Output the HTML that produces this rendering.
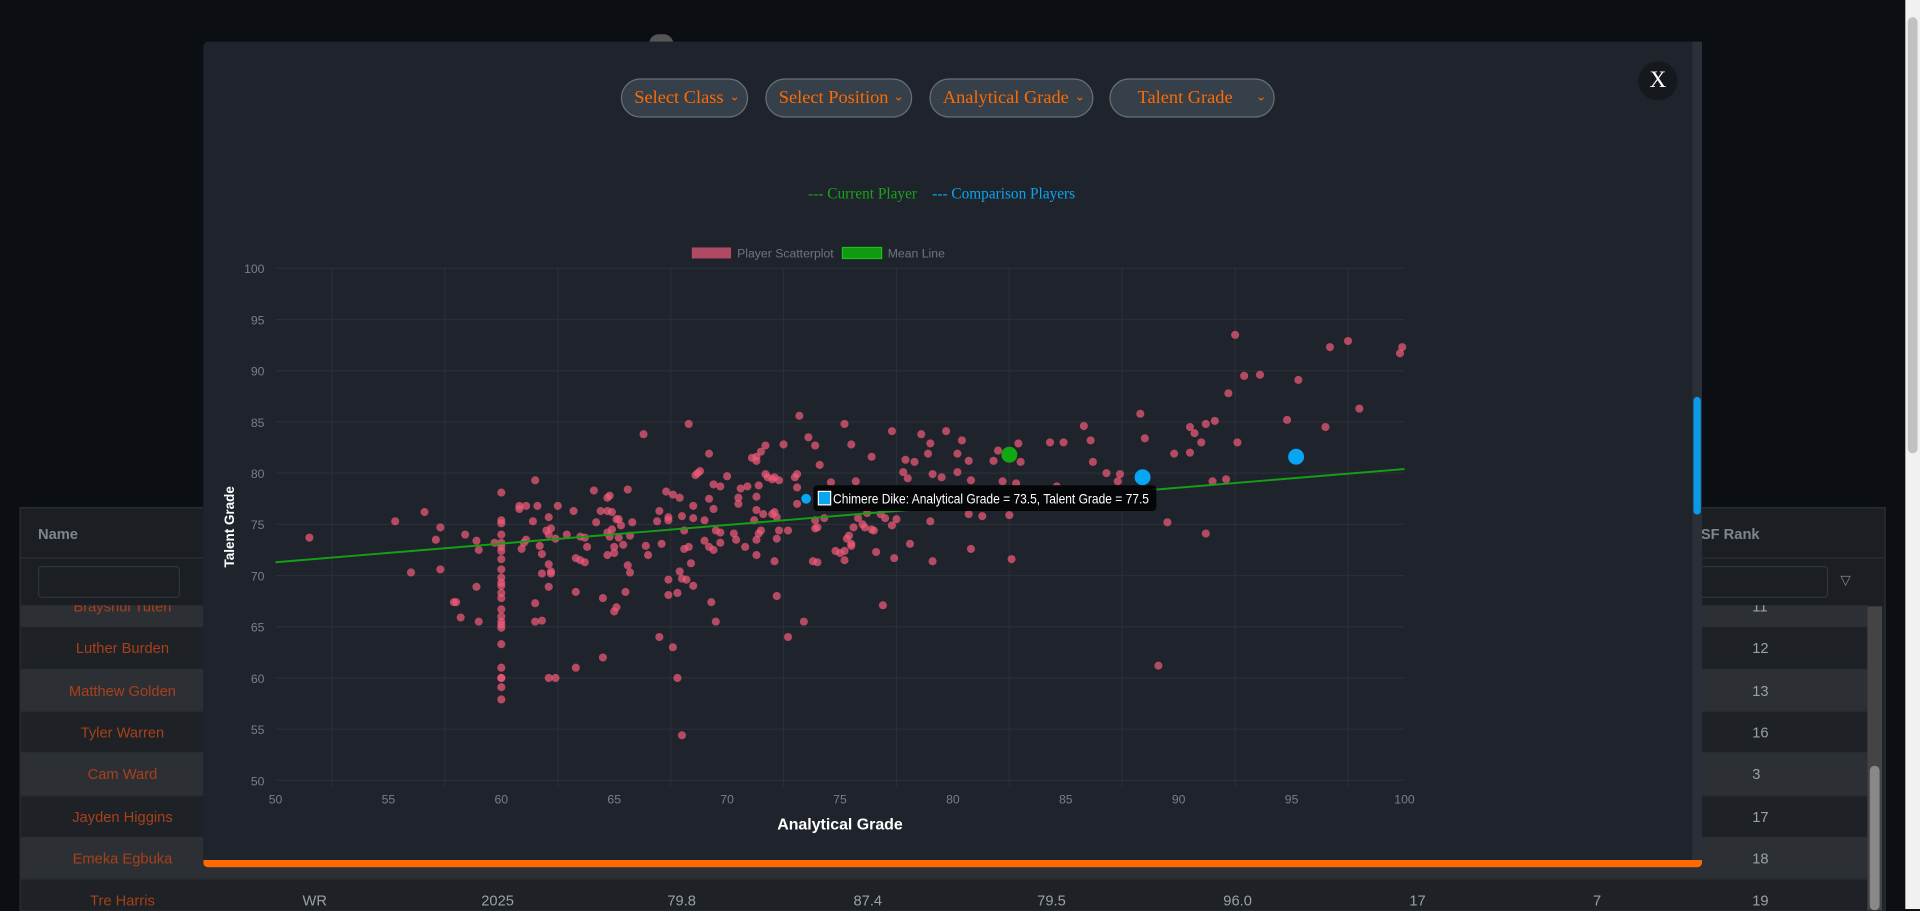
<!DOCTYPE html>
<html><head><meta charset="utf-8">
<style>
html,body{margin:0;padding:0;width:1920px;height:909px;overflow:hidden;background:#0b0f13;}
#wrap{position:absolute;left:0;top:0;width:1568px;height:742px;transform:scale(1.22449,1.2251);transform-origin:0 0;font-family:"Liberation Sans",sans-serif;}
.tbl{position:absolute;left:16px;top:414px;width:1522px;height:328px;background:#1e2226;border:1px solid #2c3036;overflow:hidden;}
.row{position:absolute;left:0;width:1508px;height:34px;border-top:1px solid #2a2e33;font-size:12px;color:#a8401a;}
.row span{position:absolute;top:10px;}
.modal{position:absolute;left:166px;top:34px;width:1224px;height:674px;background:#1f242c;border-radius:4px;border-bottom:6px solid #ff6a00;box-sizing:border-box;}
.sel{position:absolute;top:30px;height:32px;border-radius:16px;background:#36404a;border:1px solid #6a6f75;box-sizing:border-box;color:#ff6a00;font-family:"Liberation Serif",serif;font-size:15px;line-height:30px;padding-left:10px;}
.sel i{position:absolute;right:6px;top:0;font-style:normal;font-size:10px;}
</style></head><body>
<div id="wrap">
<div style="position:absolute;left:530px;top:28px;width:20px;height:8px;border-radius:10px 10px 0 0;background:#555"></div>
<div class="tbl">
 <div id="rows"></div>
 <div style="position:absolute;left:0;top:0;width:1522px;height:40px;background:#1b1f23;border-bottom:1px solid #2c3036"></div>
 <div style="position:absolute;left:0;top:41px;width:1522px;height:38px;background:#1b1f23"></div>
 <div style="position:absolute;left:14px;top:14px;font-size:12px;font-weight:bold;color:#7d8590">Name</div>
 <div style="position:absolute;left:1372px;top:14px;font-size:12px;font-weight:bold;color:#7d8590">SF Rank</div>
 <div style="position:absolute;left:14px;top:47px;width:114px;height:24px;border:1px solid #30353b;border-radius:3px;background:#1b1f23"></div>
 <div style="position:absolute;left:1360px;top:47px;width:114px;height:24px;border:1px solid #30353b;border-radius:3px;background:#1b1f23"></div>
 <div style="position:absolute;left:1486px;top:52px;font-size:11px;color:#888">▽</div>
 <div style="position:absolute;left:1508px;top:80px;width:12px;height:248px;background:#444"><div style="position:absolute;left:2px;top:130px;width:8px;height:118px;background:#888;border-radius:4px"></div></div>
</div>
<div style="position:absolute;left:1556px;top:0;width:12px;height:742px;background:#f1f1f1"><div style="position:absolute;left:2px;top:14px;width:8px;height:356px;background:#c1c1c1;border-radius:4px"></div></div>

<div class="modal">
 <div style="position:absolute;right:0;top:0;width:8px;height:668px;background:#2b3038"><div style="position:absolute;left:1px;top:290px;width:6px;height:96px;background:#0a9be8;border-radius:3px"></div></div>
 <div class="sel" style="left:341px;width:104px">Select Class<i>⌄</i></div>
 <div class="sel" style="left:459px;width:120px">Select Position<i>⌄</i></div>
 <div class="sel" style="left:593px;width:134px">Analytical Grade<i>⌄</i></div>
 <div class="sel" style="left:740px;width:135px;padding-left:22px">Talent Grade<i>⌄</i></div>
 <div style="position:absolute;left:1172px;top:16px;width:32px;height:32px;border-radius:16px;background:#15181c;color:#fff;font-family:'Liberation Serif',serif;font-size:19px;text-align:center;line-height:32px">X</div>
 <div style="position:absolute;left:494px;top:117px;font-family:'Liberation Serif',serif;font-size:12.5px;white-space:nowrap"><span style="color:#1aa31a">--- Current Player</span>&nbsp;&nbsp;&nbsp;&nbsp;<span style="color:#0aa5f0">--- Comparison Players</span></div>
</div>

<svg id="chart" width="1568" height="742" style="position:absolute;left:0;top:0"></svg>
</div>
<script>
const xVals=[51.5,55.3,56.0,56.6,57.1,57.3,57.3,57.9,58.0,58.2,58.4,58.9,59.0,58.9,59.0,59.7,
60,60,60,60,60,60,60,60,60,60,60,60,60,60,60,60,60,60,60,60,60,60,60,60,60,
60.8,60.8,61.1,60.9,61.0,61.1,61.4,61.5,61.6,61.5,61.5,61.8,61.7,61.8,61.8,62.0,62.1,62.1,62.2,62.1,62.2,62.2,62.1,62.1,62.4,62.5,62.4,62.9,63.2,63.3,63.3,63.3,63.5,63.7,63.5,63.7,63.8,64.1,64.2,64.4,64.5,64.5,64.7,64.8,64.7,64.9,64.7,64.9,64.8,64.7,65.0,65.0,65.0,65.1,65.1,65.2,65.3,65.2,65.4,65.6,65.6,65.7,65.5,65.7,65.8,66.3,66.4,66.5,66.9,67.0,67.1,67.0,67.3,67.4,67.4,67.4,67.4,67.6,67.6,67.8,67.8,67.9,67.9,68.0,68.2,68.0,68.0,68.1,68.1,68.3,68.3,68.4,68.5,68.5,68.5,68.6,68.7,68.8,69.0,69.0,69.2,69.2,69.2,69.3,69.4,69.4,69.4,69.5,69.5,69.7,69.7,69.7,70.0,70.3,70.4,70.5,70.5,70.6,70.9,70.8,71.1,71.3,71.3,71.5,71.7,71.3,71.4,71.3,71.2,71.3,71.5,71.4,71.3,71.6,71.7,71.8,72.0,72.1,72.3,72.1,72.0,72.2,72.2,72.1,72.2,72.3,72.5,72.7,72.7,73.0,73.1,73.1,73.1,73.2,73.4,73.6,73.9,74.1,73.8,74.0,73.9,73.9,74.0,74.3,74.6,74.8,75.0,75.2,75.2,75.2,75.5,75.7,75.5,75.5,75.4,75.3,75.6,75.8,76.0,76.2,76.1,76.4,76.5,76.4,76.6,76.8,76.9,77.0,77.3,77.3,77.4,77.5,77.8,77.9,78.0,78.1,78.3,78.6,78.9,79.0,79.1,79.0,79.1,79.5,79.7,80.2,80.2,80.4,80.7,80.7,80.8,80.8,81.3,81.8,82.0,
82.9,83.0,82.2,82.8,82.5,82.5,82.6,84.3,84.9,84.6,85.8,86.1,86.2,86.8,87.4,87.3,88.3,88.5,89.5,89.1,89.8,90.5,90.7,90.5,91.0,91.2,91.6,91.2,91.5,92.1,92.2,92.6,92.5,92.9,93.6,94.8,95.3,96.5,96.7,97.5,98.0,99.8,99.9];
const yVals=[73.7,75.3,70.3,76.2,73.5,74.7,70.6,67.4,67.4,65.9,74.0,73.4,72.5,68.9,65.5,73.2,
78.1,75.4,75.1,74.0,73.2,72.8,72.4,71.6,70.6,69.8,69.3,69.0,68.3,67.8,66.7,66.0,65.5,65.2,64.9,63.3,61.0,60.0,60.0,59.1,57.9,
76.5,76.8,76.8,72.6,73.2,73.5,75.3,79.3,76.8,67.3,65.5,65.6,72.9,72.1,70.2,74.4,75.7,74.0,74.6,71.1,70.4,70.2,68.9,60.0,60.0,76.8,73.6,74.0,76.3,68.4,61.0,71.7,71.5,71.3,73.8,73.7,72.8,78.3,75.2,76.3,67.8,62.0,77.6,77.8,76.3,76.2,74.2,74.5,73.8,72.0,72.2,72.8,66.5,66.9,75.5,75.5,74.9,73.7,73.0,78.4,71.0,70.3,68.4,73.9,75.2,83.8,72.9,72.0,75.3,76.3,73.1,64.0,78.2,75.7,75.4,69.6,68.1,77.9,63.0,60.0,68.3,77.6,70.4,69.7,69.6,54.4,75.8,74.4,72.6,84.8,72.8,71.2,75.6,76.8,69.0,79.8,80.0,80.2,75.4,73.4,81.9,77.5,72.8,67.4,78.9,76.5,72.5,65.5,74.4,78.7,74.2,73.2,79.7,74.1,73.5,77.6,77.0,78.5,78.7,72.8,81.5,81.2,81.6,82.1,82.7,77.7,78.8,76.4,75.4,73.5,74.4,74.1,72.0,76.0,79.9,79.6,79.4,79.6,79.3,76.2,76.0,75.7,73.6,71.4,68.0,74.4,82.8,74.4,64.0,79.6,79.9,78.6,77.0,85.6,65.5,83.5,82.7,80.8,71.4,71.3,75.4,74.6,74.7,75.6,79.1,72.4,72.2,72.4,71.5,84.8,82.8,79.2,73.1,72.9,73.9,73.6,74.7,75.6,75.0,76.1,74.7,74.5,74.4,81.6,72.3,76.0,67.1,75.6,84.1,74.9,71.7,75.5,80.1,81.3,79.5,73.1,81.1,83.8,81.9,82.9,79.9,75.3,71.4,79.6,84.1,81.9,80.1,83.2,81.2,76.0,79.3,72.6,75.8,81.2,82.2,
82.9,81.1,79.2,79.0,77.1,75.9,71.6,83.0,83.0,78.7,84.6,83.2,81.1,80.0,79.9,79.2,85.8,83.4,75.2,61.2,81.9,84.5,83.9,82.0,83.0,84.8,85.1,74.1,79.2,79.4,87.8,83.0,93.5,89.5,89.6,85.2,89.1,84.5,92.3,92.9,86.3,91.7,92.3];
const currentPlayer=[82.5,81.8];
const compX=[88.4,95.2,73.5];
const compY=[79.6,81.6,77.5];
const meanX=[50,100];
const meanY=[71.3,80.4];
const xTicks=[50,55,60,65,70,75,80,85,90,95,100];
const yTicks=[50,55,60,65,70,75,80,85,90,95,100];
const tooltipText="Chimere Dike: Analytical Grade = 73.5, Talent Grade = 77.5";
const tableNames=["Brayshul Tuten","Luther Burden","Matthew Golden","Tyler Warren","Cam Ward","Jayden Higgins","Emeka Egbuka","Tre Harris"];
const tableRanks=[11,12,13,16,3,17,18,19];

const NS="http://www.w3.org/2000/svg";
const svg=document.getElementById('chart');
const X0=225,X1=1147,Y0=637,Y1=219;
const sx=v=>X0+(v-50)/50*(X1-X0);
const sy=v=>Y0-(v-50)/50*(Y0-Y1);
function mk(t,a,txt){const e=document.createElementNS(NS,t);for(const k in a)e.setAttribute(k,a[k]);if(txt!==undefined)e.textContent=txt;svg.appendChild(e);return e;}
yTicks.forEach(v=>{const l=mk('line',{x1:X0,x2:X1,y1:sy(v),y2:sy(v),stroke:'#2a2f37','stroke-width':1});


const t=mk('text',{x:X0-9,y:sy(v)+4,fill:'#7a7f86','font-size':10,'text-anchor':'end','font-family':'Liberation Sans, sans-serif'},v);

});
xTicks.forEach((v,i)=>{if(i<xTicks.length-1){const g=mk('line',{x1:sx(v+2.5),x2:sx(v+2.5),y1:Y1,y2:Y0+5,stroke:'#2a2f37','stroke-width':1});

}
const t=mk('text',{x:sx(v),y:Y0+19,fill:'#7a7f86','font-size':10,'text-anchor':'middle','font-family':'Liberation Sans, sans-serif'},v);

});
xVals.forEach((v,i)=>{const c=mk('circle',{cx:sx(v),cy:sy(yVals[i]),r:3.3,fill:'rgba(240,90,120,0.72)'});

});
const ml=mk('line',{x1:sx(meanX[0]),y1:sy(meanY[0]),x2:sx(meanX[1]),y2:sy(meanY[1]),stroke:'#14a014','stroke-width':1.6});


const cp=mk('circle',{cx:sx(currentPlayer[0]),cy:sy(currentPlayer[1]),r:6.5,fill:'#12a812'});


compX.forEach((v,i)=>{const c=mk('circle',{cx:sx(v),cy:sy(compY[i]),r:i==2?4:6.5,fill:'#08a6f2'});

});
const tx=sx(compX[2])+6, ty=sy(compY[2])-11;
const tb=mk('rect',{x:tx,y:ty,width:280,height:21,rx:3,fill:'#050607'});


mk('rect',{x:tx+4,y:ty+5,width:10,height:11,fill:'#08a6f2',stroke:'#fff','stroke-width':1});
const tt=mk('text',{x:tx+16,y:ty+15,fill:'#fff','font-size':11,textLength:258,lengthAdjust:'spacingAndGlyphs','font-family':'Liberation Sans, sans-serif'},tooltipText);


const l1=mk('rect',{x:565,y:202,width:32,height:9,fill:'#b04a62'});


const lt1=mk('text',{x:602,y:210,fill:'#70757c','font-size':10,'font-family':'Liberation Sans, sans-serif'},'Player Scatterplot');


const l2=mk('rect',{x:688,y:202,width:32,height:9,fill:'#109a10',stroke:'#18c018','stroke-width':1});


const lt2=mk('text',{x:725,y:210,fill:'#70757c','font-size':10,'font-family':'Liberation Sans, sans-serif'},'Mean Line');


const xt=mk('text',{x:686,y:677,fill:'#fff','font-size':13,'font-weight':'bold','text-anchor':'middle','font-family':'Liberation Sans, sans-serif'},'Analytical Grade');


const yt=mk('text',{x:0,y:0,fill:'#fff','font-size':11,'font-weight':'bold','text-anchor':'middle','font-family':'Liberation Sans, sans-serif',transform:'translate(191,430) rotate(-90)'},'Talent Grade');


const rows=document.getElementById('rows');
tableNames.forEach((n,i)=>{const r=document.createElement('div');r.className='row';


r.style.top=(62+i*34.3)+'px';r.style.background=i%2==0?'#2c3034':'#1e2226';
r.innerHTML='<span style="left:0;width:166px;text-align:center">'+n+'</span><span style="left:1414px;color:#9aa0a6">'+tableRanks[i]+'</span>'+(i==7?'<span style="left:230px;color:#9aa0a6">WR</span><span style="left:376px;color:#9aa0a6">2025</span><span style="left:528px;color:#9aa0a6">79.8</span><span style="left:680px;color:#9aa0a6">87.4</span><span style="left:830px;color:#9aa0a6">79.5</span><span style="left:982px;color:#9aa0a6">96.0</span><span style="left:1134px;color:#9aa0a6">17</span><span style="left:1284px;color:#9aa0a6">7</span>':'');
rows.appendChild(r);});
</script>
</body></html>
